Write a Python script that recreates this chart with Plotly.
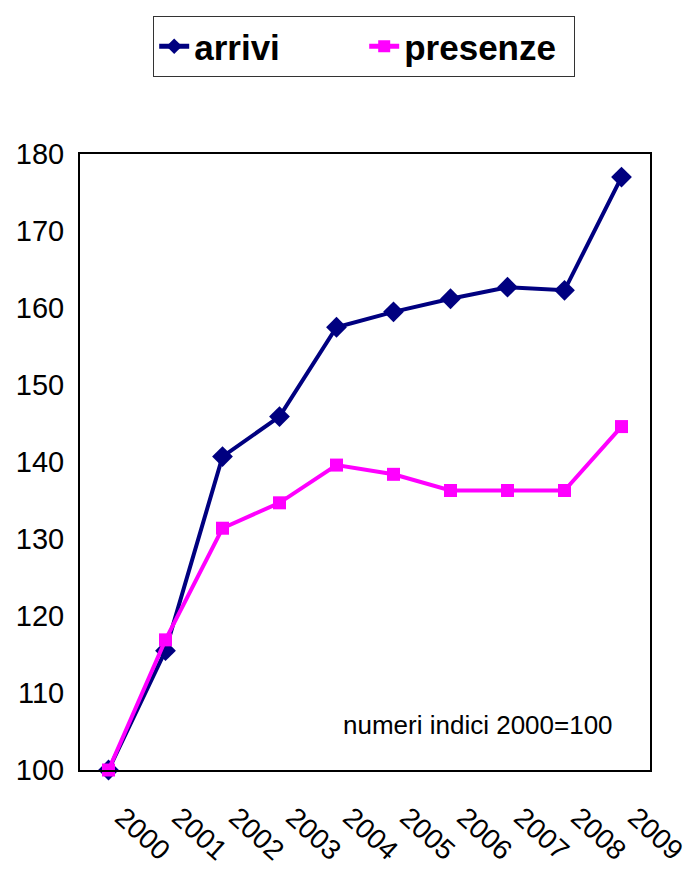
import plotly.graph_objects as go

years = ["2000", "2001", "2002", "2003", "2004", "2005", "2006", "2007", "2008", "2009"]
arrivi = [100, 115.5, 140.7, 145.9, 157.5, 159.5, 161.2, 162.7, 162.3, 177.0]
presenze = [100, 116.9, 131.4, 134.7, 139.6, 138.4, 136.3, 136.3, 136.3, 144.6]

fig = go.Figure()
fig.add_trace(go.Scatter(
    x=years, y=arrivi, name="arrivi", mode="lines+markers",
    line=dict(color="#000080", width=4),
    marker=dict(symbol="diamond", size=16, color="#000080"),
    cliponaxis=False,
))
fig.add_trace(go.Scatter(
    x=years, y=presenze, name="presenze", mode="lines+markers",
    line=dict(color="#FF00FF", width=4),
    marker=dict(symbol="square", size=13, color="#FF00FF"),
    cliponaxis=False,
))

fig.update_layout(
    width=685, height=861,
    margin=dict(l=72, r=43, t=146, b=99),
    paper_bgcolor="white", plot_bgcolor="white",
    font=dict(family="Liberation Sans, Arial, sans-serif", color="black"),
    showlegend=True,
    legend=dict(
        orientation="h", xref="container", yref="container",
        x=0.52, xanchor="center", y=0.9907, yanchor="top",
        bordercolor="#333333", borderwidth=1,
        font=dict(family="Liberation Sans, Arial", size=35, color="black", weight="bold"),
        entrywidth=165, entrywidthmode="pixels",
        itemsizing="constant",
    ),
    annotations=[dict(
        text="numeri indici 2000=100", x=0.938, y=0.073, xref="paper", yref="paper",
        xanchor="right", yanchor="middle", showarrow=False,
        font=dict(size=26, color="black"),
    )],
)
fig.update_xaxes(
    type="category", range=[-0.5, 9.5], automargin=False,
    showline=True, mirror=True, linecolor="black", linewidth=2,
    showgrid=False, ticks="", tickangle=42, ticklabelstandoff=18,
    ticklabelshift=14,
    tickfont=dict(size=28),
)
fig.update_yaxes(
    range=[100, 180], dtick=10, automargin=False,
    showline=True, mirror=True, linecolor="black", linewidth=2,
    showgrid=False, ticks="", ticklabelstandoff=8,
    tickfont=dict(size=29), zeroline=False,
)

fig.write_html("out.html")
